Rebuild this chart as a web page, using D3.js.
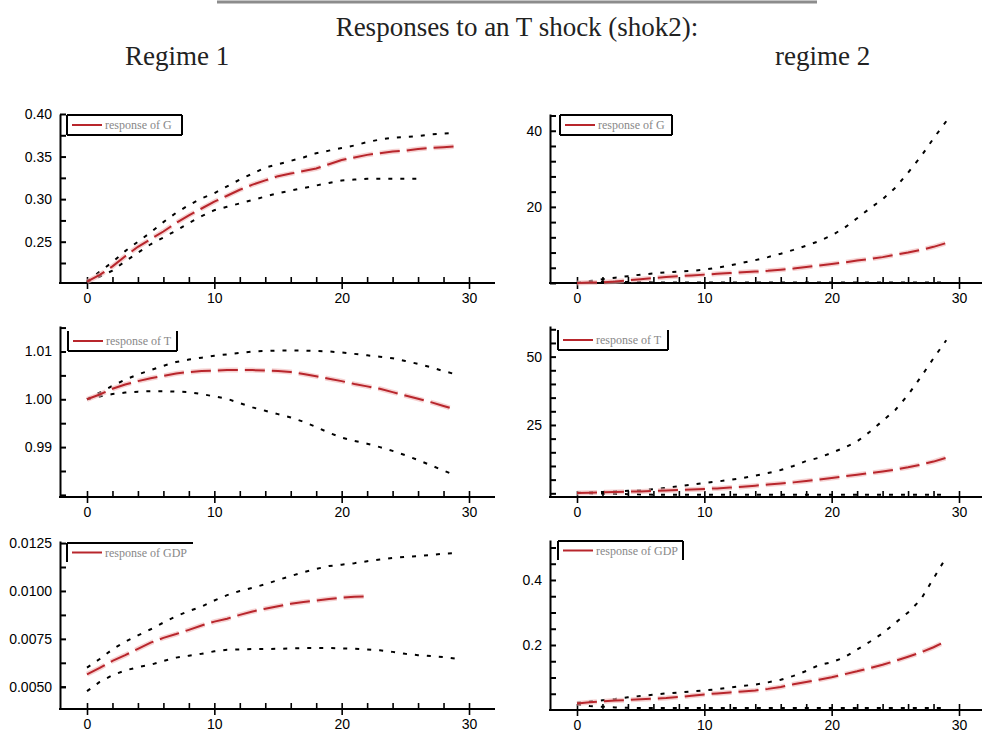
<!DOCTYPE html>
<html>
<head>
<meta charset="utf-8">
<script src="https://cdn.jsdelivr.net/npm/d3@7"></script>
<style>
  html, body { margin: 0; padding: 0; background: #fff; }
  svg { display: block; }
  .tick text { font-family: "Liberation Sans", Arial, sans-serif; font-size: 14px; fill: #000; }
</style>
</head>
<body>
<svg id="chart" width="982" height="733"></svg>
<script>
// ---- Data -------------------------------------------------------------
const horizon = [0,1,2,3,4,5,6,7,8,9,10,11,12,13,14,15,16,17,18,19,20,21,22,23,24,25,26,27,28,29];
const xTickLabels = [0, 10, 20, 30];
const xMinorTicks = [0,2,4,6,8,10,12,14,16,18,20,22,24,26,28,30];

// Regime 1, response of G
const r1G_irf = [0.203,0.211,0.221,0.233,0.244,0.253,0.262,0.272,0.281,0.289,0.297,0.304,0.311,0.317,0.322,0.327,0.330,0.333,0.336,0.341,0.346,0.349,0.352,0.354,0.356,0.357,0.359,0.360,0.361,0.362];
const r1G_hi  = [0.203,0.215,0.226,0.239,0.250,0.261,0.273,0.284,0.293,0.301,0.307,0.315,0.323,0.330,0.337,0.341,0.345,0.349,0.354,0.357,0.360,0.363,0.367,0.370,0.372,0.373,0.374,0.376,0.377,0.378];
const r1G_lo  = [0.203,0.209,0.216,0.227,0.237,0.247,0.255,0.263,0.272,0.280,0.287,0.291,0.295,0.299,0.303,0.307,0.310,0.313,0.316,0.319,0.322,0.323,0.324,0.324,0.324,0.324,0.324,null,null,null];
const r1G_ticks = [0.25, 0.30, 0.35, 0.40];
const r1G_minor = [0.225, 0.275, 0.325, 0.375];

// Regime 2, response of G
const r2G_irf = [0,0.1,0.2,0.4,0.7,1.0,1.3,1.6,1.8,2.0,2.2,2.4,2.6,2.8,3.0,3.2,3.5,3.8,4.2,4.6,5.0,5.4,5.9,6.3,6.8,7.4,8.0,8.7,9.5,10.5];
const r2G_hi  = [0,0.5,1.0,1.4,1.8,2.2,2.5,2.8,3.0,3.2,3.5,4.0,4.6,5.3,6.0,6.8,7.7,8.7,9.8,11.0,12.5,14.5,17.0,19.6,22.0,25.0,29.0,33.2,38.0,42.5];
const r2G_lo  = [0,0.2,0.3,0.3,0.25,0.2,0.15,0.1,0.1,0.1,0.1,0.1,0.1,0.1,0.1,0.1,0.1,0.1,0.1,0.1,0.1,0.1,0.1,0.1,0.1,0.1,0.1,0.1,0.1,0.1];
const r2G_ticks = [20, 40];
const r2G_minor = [0,4,8,12,16,24,28,32,36,44];

// Regime 1, response of T
const r1T_irf = [1.0000,1.0010,1.0022,1.0031,1.0038,1.0044,1.0049,1.0054,1.0057,1.0059,1.0060,1.0061,1.0061,1.0061,1.0060,1.0059,1.0057,1.0053,1.0048,1.0043,1.0038,1.0032,1.0027,1.0022,1.0015,1.0008,1.0001,0.9994,0.9986,0.9978];
const r1T_hi  = [1.0000,1.0014,1.0028,1.0041,1.0052,1.0061,1.0070,1.0078,1.0083,1.0087,1.0091,1.0094,1.0097,1.0100,1.0101,1.0102,1.0102,1.0102,1.0101,1.0100,1.0098,1.0095,1.0092,1.0089,1.0086,1.0080,1.0074,1.0067,1.0059,1.0052];
const r1T_lo  = [1.0000,1.0006,1.0011,1.0014,1.0016,1.0017,1.0017,1.0016,1.0015,1.0011,1.0006,1.0001,0.9992,0.9983,0.9976,0.9969,0.9962,0.9953,0.9942,0.9930,0.9920,0.9913,0.9907,0.9900,0.9892,0.9883,0.9873,0.9862,0.9851,0.9840];
const r1T_ticks = [0.99, 1.00, 1.01];
const r1T_minor = [0.980, 0.985, 0.995, 1.005, 1.015];

// Regime 2, response of T
const r2T_irf = [0.1,0.2,0.4,0.5,0.6,0.7,0.9,1.0,1.2,1.4,1.6,1.8,2.1,2.4,2.8,3.2,3.6,4.0,4.5,5.0,5.6,6.2,6.8,7.4,8.0,8.7,9.5,10.5,11.6,13.0];
const r2T_hi  = [0.2,0.3,0.5,0.7,0.9,1.1,1.5,2.0,2.6,3.2,3.8,4.3,4.9,5.6,6.5,7.4,8.5,10.0,11.8,13.0,14.8,16.7,19.0,22.5,26.5,30.5,36.0,42.5,49.4,56.0];
const r2T_lo  = [0.1,0.0,-0.1,-0.2,-0.3,-0.4,-0.5,-0.5,-0.5,-0.5,-0.5,-0.5,-0.5,-0.5,-0.5,-0.5,-0.5,-0.5,-0.5,-0.5,-0.5,-0.5,-0.5,-0.5,-0.5,-0.5,-0.5,-0.5,-0.5,-0.5];
const r2T_ticks = [25, 50];
const r2T_minor = [0,5,10,15,20,30,35,40,45,55,60];

// Regime 1, response of GDP
const r1Y_irf = [0.00565,0.00598,0.00635,0.00665,0.00698,0.00730,0.00755,0.00775,0.00797,0.00820,0.00840,0.00855,0.00875,0.00893,0.00907,0.00920,0.00933,0.00942,0.00950,0.00958,0.00965,0.00970,0.00972,null,null,null,null,null,null,null];
const r1Y_hi  = [0.00600,0.00645,0.00695,0.00735,0.00768,0.00800,0.00835,0.00868,0.00895,0.00918,0.00950,0.00978,0.01000,0.01016,0.01035,0.01057,0.01078,0.01098,0.01115,0.01130,0.01137,0.01145,0.01155,0.01164,0.01172,0.01178,0.01182,0.01188,0.01195,0.01198];
const r1Y_lo  = [0.00477,0.00525,0.00560,0.00585,0.00602,0.00615,0.00635,0.00652,0.00662,0.00672,0.00685,0.00693,0.00695,0.00697,0.00697,0.00698,0.00700,0.00702,0.00702,0.00702,0.00700,0.00698,0.00695,0.00690,0.00682,0.00672,0.00665,0.00660,0.00655,0.00646];
const r1Y_ticks = [0.0050, 0.0075, 0.0100, 0.0125];
const r1Y_minor = [0.00500, 0.00625, 0.00875, 0.01125];

// Regime 2, response of GDP
const r2Y_irf = [0.020,0.024,0.027,0.029,0.031,0.033,0.035,0.037,0.040,0.044,0.048,0.051,0.054,0.057,0.060,0.065,0.071,0.079,0.086,0.093,0.101,0.110,0.119,0.129,0.139,0.151,0.164,0.177,0.193,0.212];
const r2Y_hi  = [0.022,0.026,0.030,0.034,0.039,0.043,0.047,0.051,0.054,0.057,0.060,0.064,0.069,0.074,0.078,0.085,0.093,0.105,0.120,0.138,0.147,0.162,0.186,0.210,0.236,0.268,0.300,0.340,0.405,0.470];
const r2Y_lo  = [0.018,0.012,0.010,0.008,0.007,0.006,0.006,0.006,0.006,0.006,0.006,0.006,0.006,0.006,0.006,0.006,0.006,0.006,0.006,0.006,0.006,0.006,0.006,0.006,0.006,0.006,0.006,0.006,0.006,0.006];
const r2Y_ticks = [0.2, 0.4];
const r2Y_minor = [0.05,0.10,0.15,0.25,0.30,0.35,0.45,0.50];

const titleText = "Responses to an T shock (shok2):";
const regimeLabels = ["Regime 1", "regime 2"];

// ---- Panels -------------------------------------------------------------
const panels = [
  { name: "response of G",   irf: r1G_irf, hi: r1G_hi, lo: r1G_lo, ticks: r1G_ticks, minor: r1G_minor, fmt: ".2f",
    left: 60,  end: 495, top: 114, bottom: 283, domain: [0.2015, 0.400],
    legend: { x: 67,  y: 115, w: 115, h: 20, sides: "trbl" } },
  { name: "response of G",   irf: r2G_irf, hi: r2G_hi, lo: r2G_lo, ticks: r2G_ticks, minor: r2G_minor, fmt: "d",
    left: 550, end: 982, top: 114, bottom: 283, domain: [0, 44.4],
    legend: { x: 560, y: 115, w: 112, h: 20, sides: "trbl" } },
  { name: "response of T",   irf: r1T_irf, hi: r1T_hi, lo: r1T_lo, ticks: r1T_ticks, minor: r1T_minor, fmt: ".2f",
    left: 60,  end: 495, top: 326, bottom: 497, domain: [0.97956, 1.01533],
    legend: { x: 68,  y: 331, w: 109, h: 20, sides: "rbl" } },
  { name: "response of T",   irf: r2T_irf, hi: r2T_hi, lo: r2T_lo, ticks: r2T_ticks, minor: r2T_minor, fmt: "d",
    left: 550, end: 982, top: 326, bottom: 497, domain: [-1.35, 61.2],
    legend: { x: 558, y: 330, w: 110, h: 20, sides: "rbl" } },
  { name: "response of GDP", irf: r1Y_irf, hi: r1Y_hi, lo: r1Y_lo, ticks: r1Y_ticks, minor: r1Y_minor, fmt: ".4f",
    left: 60,  end: 495, top: 541, bottom: 709, domain: [0.003839, 0.012607],
    legend: { x: 67,  y: 543, w: 126, h: 19, sides: "tl" } },
  { name: "response of GDP", irf: r2Y_irf, hi: r2Y_hi, lo: r2Y_lo, ticks: r2Y_ticks, minor: r2Y_minor, fmt: ".1f",
    left: 550, end: 982, top: 540, bottom: 710, domain: [0, 0.523],
    legend: { x: 558, y: 541, w: 125, h: 19, sides: "trl" } }
];

const svg = d3.select("#chart");
const RED = "#b8262c";

// Header: rule, title and regime captions
svg.append("line").attr("x1", 217).attr("x2", 817).attr("y1", 2).attr("y2", 2)
  .attr("stroke", "#8c8c8c").attr("stroke-width", 3);
svg.append("text").attr("x", 517).attr("y", 36).attr("text-anchor", "middle")
  .attr("font-family", "Liberation Serif, Times New Roman, serif").attr("font-size", 27)
  .attr("fill", "#222").text(titleText);
svg.append("text").attr("x", 125).attr("y", 65)
  .attr("font-family", "Liberation Serif, Times New Roman, serif").attr("font-size", 27)
  .attr("fill", "#222").text(regimeLabels[0]);
svg.append("text").attr("x", 775).attr("y", 65)
  .attr("font-family", "Liberation Serif, Times New Roman, serif").attr("font-size", 27)
  .attr("fill", "#222").text(regimeLabels[1]);

panels.forEach(p => {
  const g = svg.append("g");
  const x = d3.scaleLinear().domain([0, 30]).range([p.left + 27, p.left + 409]);
  const y = d3.scaleLinear().domain(p.domain).range([p.bottom, p.top]);

  // y axis: labelled ticks plus minor ticks, all pointing into the plot
  const yMajor = g.append("g").attr("transform", `translate(${p.left},0)`)
    .call(d3.axisLeft(y).tickValues(p.ticks).tickFormat(d3.format(p.fmt))
      .tickSizeInner(-6).tickSizeOuter(0).tickPadding(8));
  yMajor.select(".domain").attr("stroke", "#000").attr("stroke-width", 2);
  yMajor.selectAll(".tick line").attr("stroke", "#000").attr("stroke-width", 2);
  const yMin = g.append("g").attr("transform", `translate(${p.left},0)`)
    .call(d3.axisLeft(y).tickValues(p.minor).tickFormat("").tickSize(-6));
  yMin.select(".domain").remove();
  yMin.selectAll(".tick line").attr("stroke", "#000").attr("stroke-width", 2);

  // x axis line spans the full panel width
  g.append("line").attr("x1", p.left - 1).attr("x2", p.end)
    .attr("y1", p.bottom).attr("y2", p.bottom)
    .attr("stroke", "#000").attr("stroke-width", 2);
  const xMinor = g.append("g").attr("transform", `translate(0,${p.bottom})`)
    .call(d3.axisBottom(x).tickValues(xMinorTicks).tickFormat("").tickSize(-6));
  xMinor.select(".domain").remove();
  xMinor.selectAll(".tick line").attr("stroke", "#000").attr("stroke-width", 1.6);
  const xMajor = g.append("g").attr("transform", `translate(0,${p.bottom})`)
    .call(d3.axisBottom(x).tickValues(xTickLabels).tickSize(6).tickPadding(4));
  xMajor.select(".domain").remove();
  xMajor.selectAll(".tick line").attr("stroke", "#000").attr("stroke-width", 1.6);

  const line = d3.line()
    .defined(d => d[1] !== null)
    .x(d => x(d[0]))
    .y(d => y(d[1]));

  // confidence bands
  [p.hi, p.lo].forEach(band => {
    g.append("path").datum(horizon.map((t, i) => [t, band[i]]))
      .attr("d", line).attr("fill", "none")
      .attr("stroke", "#000").attr("stroke-width", 2)
      .attr("stroke-dasharray", "4,8");
  });

  // point response: soft halo under a long-dashed red line
  const irfPts = horizon.map((t, i) => [t, p.irf[i]]);
  g.append("path").datum(irfPts).attr("d", line).attr("fill", "none")
    .attr("stroke", "#f0b4b4").attr("stroke-width", 5).attr("stroke-opacity", 0.6)
    .attr("stroke-dasharray", "20,7");
  g.append("path").datum(irfPts).attr("d", line).attr("fill", "none")
    .attr("stroke", RED).attr("stroke-width", 2)
    .attr("stroke-dasharray", "20,7");

  // legend box
  const L = p.legend;
  const lg = g.append("g");
  lg.append("rect").attr("x", L.x).attr("y", L.y).attr("width", L.w).attr("height", L.h).attr("fill", "#fff");
  const edges = {
    t: [L.x, L.y, L.x + L.w, L.y],
    r: [L.x + L.w, L.y, L.x + L.w, L.y + L.h],
    b: [L.x, L.y + L.h, L.x + L.w, L.y + L.h],
    l: [L.x, L.y, L.x, L.y + L.h]
  };
  L.sides.split("").forEach(s => {
    const e = edges[s];
    lg.append("line").attr("x1", e[0]).attr("y1", e[1]).attr("x2", e[2]).attr("y2", e[3])
      .attr("stroke", "#000").attr("stroke-width", 2);
  });
  const ly = L.y + L.h / 2;
  lg.append("line").attr("x1", L.x + 5).attr("x2", L.x + 35).attr("y1", ly).attr("y2", ly)
    .attr("stroke", RED).attr("stroke-width", 2);
  lg.append("text").attr("x", L.x + 38).attr("y", ly + 4)
    .attr("font-family", "Liberation Serif, Times New Roman, serif").attr("font-size", 12)
    .attr("fill", "#888").text(p.name);
});
</script>
</body>
</html>
